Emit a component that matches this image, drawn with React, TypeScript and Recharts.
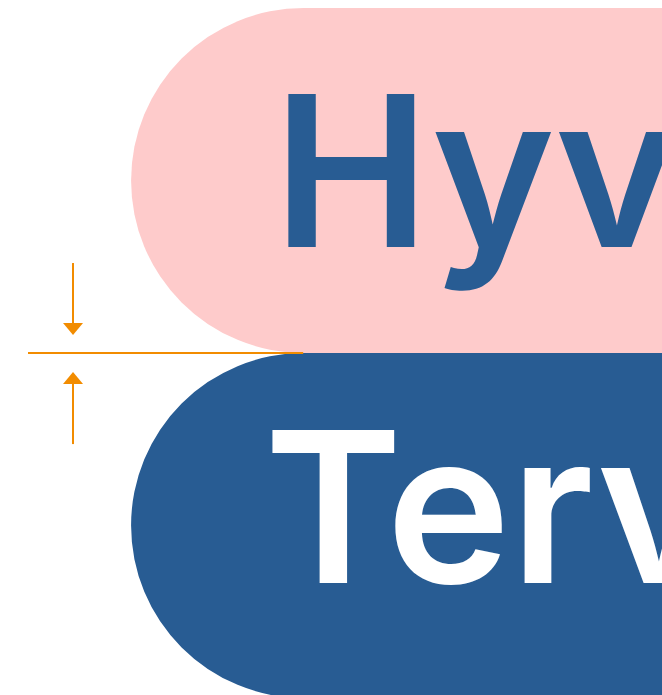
import React from "react";
import {
	ComposedChart,
	Bar,
	XAxis,
	YAxis,
	LabelList,
	ReferenceLine,
} from "recharts";

// two greeting pills, each a range bar on a 0..100 scale
const words = ["Hyvää", "Tervetuloa"];
const spanStart = [19.8, 19.8];
const spanEnd = [100, 100];
const fills = ["#FECBCB", "#285C93"];
const textColors = ["#285C93", "#FFFFFF"];

// gap marker (y on a 0..1 scale from bottom: 0.5 = seam between the rows)
const markerX = 11.03;
const seamY = 0.5;
const seamFrom = 4.23;
const seamTo = 45.8;
const downArrow = [0.632, 0.5275]; // tail, tip
const upArrow = [0.3696, 0.4739]; // tail, tip

const data = words.map((w, i) => ({
	name: w,
	span: [spanStart[i], spanEnd[i]],
}));

const ORANGE = "#F28C00";

const renderWord = (props: any) => {
	const { x, y, height, index, value } = props;
	const i = index ?? 0;
	return (
		<text
			x={x + (i === 0 ? 142 : 133)}
			y={y + height / 2 + (i === 0 ? 66 : 57)}
			fill={textColors[i]}
			fontFamily='Inter'
			fontWeight={600}
			fontSize={210}>
			{words[i] ?? value}
		</text>
	);
};

// shaft from (x1,y1) to (x2,y2) with a head at the second point
const Arrow = (props: any) => {
	const { x1, y1, x2, y2 } = props;
	const dir = y2 > y1 ? 1 : -1;
	const base = y2 - dir * 12;
	return (
		<g>
			<line
				x1={x1}
				y1={y1}
				x2={x2}
				y2={base + dir}
				stroke={ORANGE}
				strokeWidth={2}
			/>
			<polygon
				points={`${x2},${y2} ${x2 - 10},${base} ${x2 + 10},${base}`}
				fill={ORANGE}
			/>
		</g>
	);
};

export default function App() {
	return (
		<div
			style={{
				position: "absolute",
				top: 0,
				left: 0,
				width: 662,
				height: 695,
				overflow: "hidden",
				background: "#fff",
			}}>
			<ComposedChart
				width={662}
				height={698}
				data={data}
				layout='vertical'
				barCategoryGap={0}
				margin={{ top: 8, right: 0, bottom: 0, left: 0 }}>
				<XAxis type='number' domain={[0, 100]} hide />
				<YAxis type='category' dataKey='name' hide />
				<YAxis
					yAxisId='n'
					type='number'
					domain={[0, 1]}
					allowDataOverflow
					hide
				/>
				<ReferenceLine
					yAxisId='n'
					segment={[
						{ x: seamFrom, y: seamY },
						{ x: seamTo, y: seamY },
					]}
					stroke={ORANGE}
					strokeWidth={2}
				/>
				<ReferenceLine
					yAxisId='n'
					segment={[
						{ x: markerX, y: downArrow[0] },
						{ x: markerX, y: downArrow[1] },
					]}
					shape={(p: any) => <Arrow {...p} />}
				/>
				<ReferenceLine
					yAxisId='n'
					segment={[
						{ x: markerX, y: upArrow[0] },
						{ x: markerX, y: upArrow[1] },
					]}
					shape={(p: any) => <Arrow {...p} />}
				/>
				<Bar
					dataKey='span'
					isAnimationActive={false}
					shape={(p: any) => {
						const r = Math.min(p.height / 2, 172.5);
						const { x, y, width, height } = p;
						const d = `M${x + r},${y} L${x + width},${y} L${x + width},${y + height} L${x + r},${y + height} A${r},${r} 0 0 1 ${x + r},${y} Z`;
						return <path d={d} fill={fills[p.index ?? 0]} />;
					}}>
					<LabelList dataKey='name' content={renderWord} />
				</Bar>
			</ComposedChart>
		</div>
	);
}
